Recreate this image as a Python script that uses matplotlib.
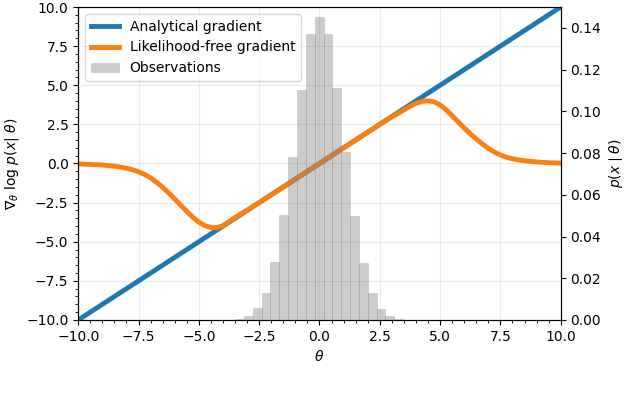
import numpy as np
import matplotlib
matplotlib.use("Agg")
import matplotlib.pyplot as plt

# analytical gradient: straight line
theta_line = [-10.0, 10.0]
grad_line = [-10.0, 10.0]

# likelihood-free gradient
theta_lf = [-10.0, -9.5, -9.0, -8.5, -8.25, -8.0, -7.75, -7.5, -7.25, -7.0, -6.75,
            -6.5, -6.25, -6.0, -5.75, -5.5, -5.25, -5.0, -4.75, -4.5, -4.25,
            -4.0, -3.75, -3.5, -3.0, -2.5, -2.0, -1.0, 0.0, 1.0, 2.0,
            2.5, 3.0, 3.5, 3.75, 4.0, 4.25, 4.5, 4.75, 5.0, 5.25,
            5.5, 5.75, 6.0, 6.25, 6.5, 6.75, 7.0, 7.25, 7.5, 7.75,
            8.0, 8.25, 8.5, 9.0, 9.5, 10.0]
grad_lf = [-0.03, -0.06, -0.10, -0.17, -0.23, -0.30, -0.40, -0.53, -0.70, -0.92, -1.20,
           -1.52, -1.88, -2.27, -2.67, -3.06, -3.43, -3.75, -3.97, -4.09, -4.10,
           -3.97, -3.72, -3.45, -2.99, -2.5, -2.0, -1.0, 0.0, 1.0, 2.0,
           2.5, 2.98, 3.42, 3.65, 3.84, 3.97, 4.01, 3.94, 3.74, 3.43,
           3.05, 2.66, 2.27, 1.90, 1.56, 1.25, 0.97, 0.73, 0.54, 0.40,
           0.30, 0.23, 0.17, 0.10, 0.05, 0.02]

# observations histogram (fraction per bin)
bin_edges = np.linspace(-3.50, 3.47, 20)
bin_heights = [0.0005, 0.0019, 0.0056, 0.013, 0.028, 0.0503, 0.0783, 0.110, 0.137, 0.145,
               0.137, 0.111, 0.0807, 0.0498, 0.0272, 0.0128, 0.0051, 0.0019, 0.0005]

fig = plt.figure(figsize=(6.26, 3.96), dpi=100)
fig.subplots_adjust(left=0.125, right=0.8957, top=0.9823, bottom=0.192)
ax = fig.add_subplot(111)

l1, = ax.plot(theta_line, grad_line, color="tab:blue", lw=3.5, label="Analytical gradient")
l2, = ax.plot(theta_lf, grad_lf, color="tab:orange", lw=3.5, label="Likelihood-free gradient")
ax.set_xlim(-10, 10)
ax.set_ylim(-10, 10)
ax.set_xticks(np.arange(-10, 10.1, 2.5))
ax.set_yticks(np.arange(-10, 10.1, 2.5))
ax.minorticks_on()
ax.grid(alpha=0.25)
ax.set_xlabel(r"$\theta$")
ax.set_ylabel(r"$\nabla_\theta\ \log\,p(x|\ \theta)$")

ax2 = ax.twinx()
centers = (bin_edges[:-1] + bin_edges[1:]) / 2
_, _, patches = ax2.hist(centers, bins=bin_edges, weights=bin_heights,
                         color="gray", alpha=0.4, ec="gray", lw=0.4, label="Observations")
ax2.set_ylim(0, 0.15)
ax2.set_yticks(np.arange(0, 0.141, 0.02))
ax2.set_ylabel(r"$p(x \mid \theta)$")

ax2.legend([l1, l2, patches[0]], ["Analytical gradient", "Likelihood-free gradient", "Observations"],
           loc="upper left")

fig.savefig("out.png", dpi=100)
